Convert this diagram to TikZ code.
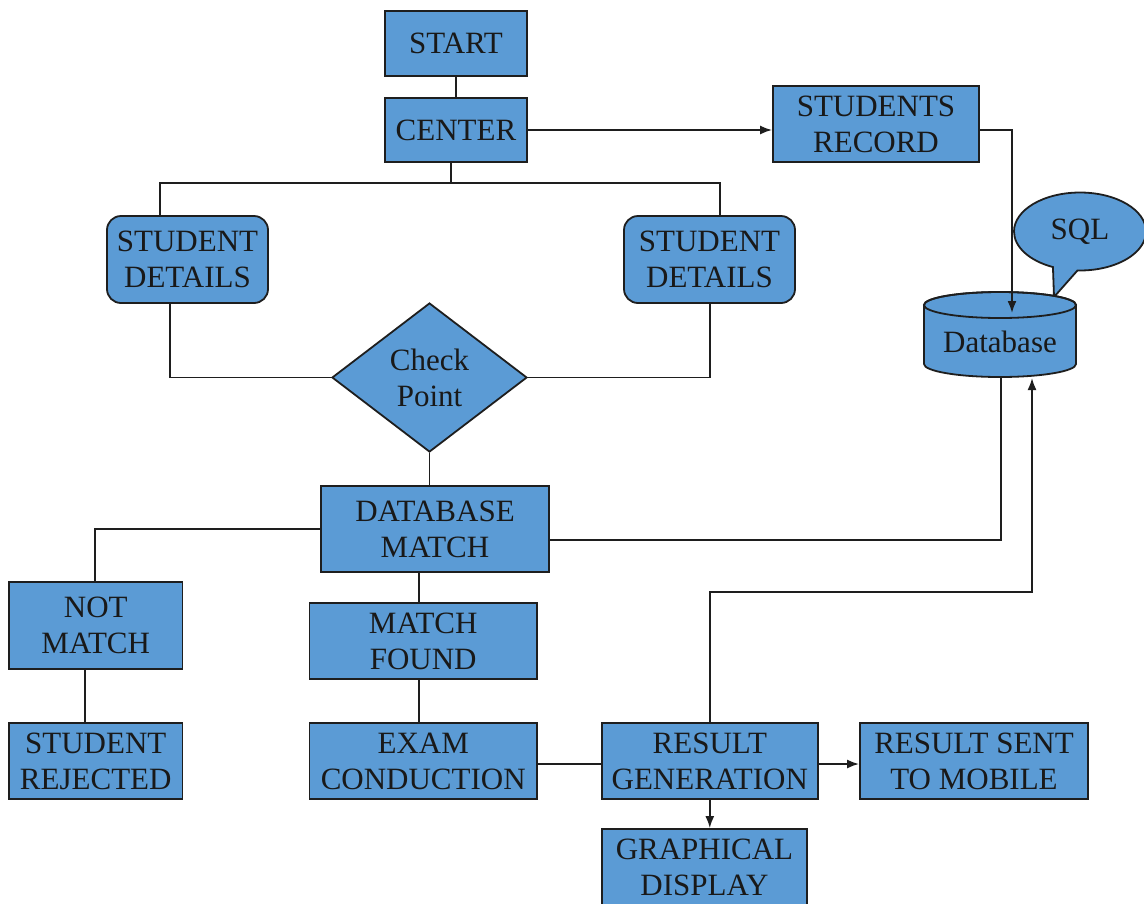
\documentclass[tikz,border=0pt]{standalone}
\usepackage{fontspec}
\setmainfont{Liberation Serif}
\usetikzlibrary{shapes.geometric,shapes.callouts,arrows.meta}
\definecolor{boxblue}{RGB}{91,155,213}
\definecolor{edge}{RGB}{30,30,30}
\begin{document}
\begin{tikzpicture}[x=1pt,y=-1pt,
  txt/.style={align=center, text=black!90, font=\fontsize{31}{36}\selectfont},
  box/.style={txt, draw=edge, line width=1.8pt, fill=boxblue, inner sep=0pt},
  rbox/.style={box, rounded corners=14pt},
  conn/.style={draw=edge, line width=1.8pt},
  arr/.style={conn, -{Latex[length=12pt,width=9pt]}}]
\useasboundingbox (0,0) rectangle (1144,903);
\clip (0,0) rectangle (1144,903);

% nodes
\node[box, minimum width=142pt, minimum height=65pt] (start) at (456,43.5) {START};
\node[box, minimum width=142pt, minimum height=64pt] (center) at (456,130) {CENTER};
\node[box, minimum width=206pt, minimum height=76pt] (srec) at (876,124) {STUDENTS\\RECORD};
\node[rbox, minimum width=161pt, minimum height=87pt] (sd1) at (187.5,259.5) {STUDENT\\DETAILS};
\node[rbox, minimum width=171pt, minimum height=87pt] (sd2) at (709.5,259.5) {STUDENT\\DETAILS};
\node[box, diamond, aspect=1.31, minimum width=195pt, minimum height=149pt] (cp) at (429.5,377.5) {Check\\Point};
\node[box, minimum width=228pt, minimum height=86pt] (dbm) at (435,529) {DATABASE\\MATCH};
\node[box, minimum width=173.5pt, minimum height=87pt] (notm) at (95.75,625.5) {NOT\\MATCH};
\node[box, minimum width=173.5pt, minimum height=76pt] (rej) at (95.75,761) {STUDENT\\REJECTED};
\node[box, minimum width=227.5pt, minimum height=76pt] (mf) at (423.25,641) {MATCH\\FOUND};
\node[box, minimum width=227.5pt, minimum height=76pt] (exam) at (423.25,761) {EXAM\\CONDUCTION};
\node[box, minimum width=215.6pt, minimum height=76pt] (resg) at (709.8,761) {RESULT\\GENERATION};
\node[box, minimum width=228pt, minimum height=76pt] (sent) at (974,761) {RESULT SENT\\TO MOBILE};
\node[box, minimum width=205pt, minimum height=76pt] (graph) at (704.5,867) {GRAPHICAL\\DISPLAY};

% SQL callout
\node[box, ellipse callout, minimum width=132pt, minimum height=78pt,
      callout absolute pointer={(1054,297)}, callout pointer arc=22] (sql) at (1080,231.5) {SQL};

% database cylinder
\filldraw[draw=edge, line width=1.8pt, fill=boxblue]
  (924,305) -- (924,364) arc[start angle=180, end angle=360, x radius=76pt, y radius=13pt]
  -- (1076,305) arc[start angle=0, end angle=180, x radius=76pt, y radius=13pt] -- cycle;
\draw[draw=edge, line width=1.8pt] (1000,305) ellipse [x radius=76pt, y radius=13pt];
\node[txt] (db) at (1000,342) {Database};
\coordinate (dbtop) at (1012,313);
\coordinate (dbbot1) at (1001,377);
\coordinate (dbbot2) at (1032,378);

% connectors
\draw[conn] (start) -- (center);
\draw[arr] (center.east) -- (center.east -| srec.west);
\coordinate (split) at (451,183);
\draw[conn] (center.south -| split) -- (split);
\draw[conn] (split) -| ([xshift=-27.5pt]sd1.north);
\draw[conn] (split) -| ([xshift=10.5pt]sd2.north);
\draw[conn] ([xshift=-17.5pt]sd1.south) |- (cp.west);
\draw[conn] ([xshift=0.5pt]sd2.south) |- (cp.east);
\draw[conn] (cp.south) -- (cp.south |- dbm.north);
\draw[conn] (dbm.west) -| ([xshift=-0.75pt]notm.north);
\draw[conn] ([xshift=-10.75pt]notm.south) -- ([xshift=-10.75pt]rej.north);
\draw[conn] ([xshift=-4pt]mf.north |- dbm.south) -- ([xshift=-4pt]mf.north);
\draw[conn] ([xshift=-4pt]mf.south) -- ([xshift=-4pt]exam.north);
\draw[conn] ([yshift=-3pt]exam.east) -- ([yshift=-3pt]resg.west);
\draw[arr] ([yshift=-3pt]resg.east) -- ([yshift=-3pt]sent.west);
\draw[arr] (resg.south) -- (resg.south |- graph.north);
\draw[arr] ([yshift=-6pt]srec.east) -| (dbtop);
\draw[conn] ([yshift=-11pt]dbm.east) -| (dbbot1);
\draw[arr] (resg.north) -- ++(0,-130) -| (dbbot2);
\end{tikzpicture}
\end{document}
